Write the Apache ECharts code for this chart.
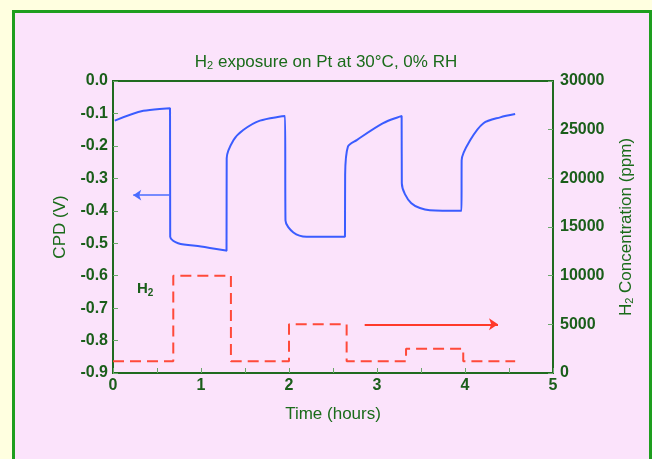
<!DOCTYPE html>
<html>
<head>
<meta charset="utf-8">
<script src="https://cdn.jsdelivr.net/npm/echarts@6/dist/echarts.min.js"></script>
<style>
html,body{margin:0;padding:0;background:#FFFFE0;}
#c{width:652px;height:459px;}
</style>
</head>
<body>
<div id="c"></div>
<script>
// CPD (V) vs time (hours)
const cpdTime = [0.02,0.345,0.648,0.65,0.74,1.0,1.29,1.292,1.37,1.48,1.67,1.955,1.96,2.05,2.2,2.636,2.638,2.67,2.77,3.07,3.28,3.282,3.39,3.6,3.96,3.962,4.06,4.21,4.40,4.57];
const cpdValues = [-0.122,-0.092,-0.084,-0.48,-0.50,-0.51,-0.523,-0.238,-0.182,-0.151,-0.122,-0.108,-0.43,-0.467,-0.48,-0.48,-0.29,-0.202,-0.182,-0.13,-0.108,-0.315,-0.377,-0.398,-0.40,-0.244,-0.182,-0.13,-0.112,-0.102];
// H2 concentration (ppm) vs time (hours)
const h2Time = [0,0.685,0.685,1.34,1.34,2.0,2.0,2.655,2.655,3.33,3.33,3.98,3.98,4.57];
const h2Values = [1200,1200,10000,10000,1200,1200,5000,5000,1200,1200,2500,2500,1200,1200];
// axis ticks
const cpdTicks = {min:-0.9,max:0,interval:0.1};
const h2Ticks = {min:0,max:30000,interval:5000};
const timeTicks = {min:0,max:5,interval:0.5};
// arrows (data coords)
const cpdArrow = [[0.65,-0.352],[0.23,-0.352]];
const h2Arrow = [[2.86,5000],[4.375,5000]];

const green = '#1f6b1f';
const tickGreen = '#6aa86a';
const FF = 'Liberation Sans, Arial, sans-serif';
const labelStyle = {color:'#1a5e1a',fontFamily:FF,fontSize:16,fontWeight:'bold'};
const nameStyle = {color:'#1a6b1a',fontSize:17,fontFamily:FF};
const chart = echarts.init(document.getElementById('c'));
chart.setOption({
  animation:false,
  graphic:[
    {type:'rect',z:-10,silent:true,shape:{x:13.5,y:11.5,width:637,height:460},style:{fill:'#FBE3FB',stroke:'#1E9E1E',lineWidth:3}},
    {type:'text',left:137,top:281,style:{text:'H{s|2}',rich:{s:{fontSize:10,fontWeight:'bold',fill:'#1a5e1a',padding:[9,0,0,0]}},fontSize:15,fontWeight:'bold',fill:'#1a5e1a',fontFamily:FF}}
  ],
  title:{
    text:'H{s|2} exposure on Pt at 30°C, 0% RH',
    left:'center',top:48,
    textStyle:{color:'#1a6b1a',fontSize:17,fontWeight:'normal',fontFamily:FF,
      rich:{s:{fontSize:11,color:'#1a6b1a',padding:[7,0,0,0]}}}
  },
  grid:{left:113,right:99,top:81,bottom:86,show:true,borderColor:green,borderWidth:2,backgroundColor:'transparent'},
  xAxis:{
    type:'value',min:timeTicks.min,max:timeTicks.max,interval:timeTicks.interval,
    name:'Time (hours)',nameLocation:'middle',nameGap:33,
    nameTextStyle:nameStyle,
    axisLine:{onZero:false,lineStyle:{color:green,width:2}},
    axisTick:{inside:true,length:5,lineStyle:{color:tickGreen}},
    axisLabel:Object.assign({margin:5,formatter:v=>(Math.abs(v-Math.round(v))<1e-9?String(Math.round(v)):'')},labelStyle),
    splitLine:{show:false}
  },
  yAxis:[
    {type:'value',min:cpdTicks.min,max:cpdTicks.max,interval:cpdTicks.interval,
     name:'CPD (V)',nameLocation:'middle',nameGap:44,
     nameTextStyle:nameStyle,
     axisLine:{show:true,onZero:false,lineStyle:{color:green,width:2}},
     axisTick:{show:true,inside:true,length:5,lineStyle:{color:tickGreen}},
     axisLabel:Object.assign({margin:5,formatter:v=>v.toFixed(1)},labelStyle),
     splitLine:{show:false}},
    {type:'value',min:h2Ticks.min,max:h2Ticks.max,interval:h2Ticks.interval,
     name:'H{s|2} Concentration (ppm)',nameLocation:'middle',nameGap:64,
     nameTextStyle:Object.assign({rich:{s:{fontSize:11,color:'#1a6b1a',padding:[7,0,0,0]}}},nameStyle),
     axisLine:{show:true,onZero:false,lineStyle:{color:green,width:2}},
     axisTick:{show:true,inside:true,length:5,lineStyle:{color:tickGreen}},
     axisLabel:Object.assign({margin:7,formatter:v=>String(v)},labelStyle),
     splitLine:{show:false}}
  ],
  series:[
    {type:'line',yAxisIndex:0,data:cpdTime.map((t,i)=>[t,cpdValues[i]]),symbol:'none',smooth:0.3,
     lineStyle:{color:'#3a5cff',width:2},
     markLine:{silent:true,symbol:['none','arrow'],symbolSize:[8,8],label:{show:false},
       lineStyle:{color:'#4a6cff',width:1.5,type:'solid'},
       data:[[{coord:cpdArrow[0]},{coord:cpdArrow[1]}]]}},
    {type:'line',yAxisIndex:1,data:h2Time.map((t,i)=>[t,h2Values[i]]),symbol:'none',
     lineStyle:{color:'#ff4a3a',width:2,type:[11,6]},
     markLine:{silent:true,symbol:['none','arrow'],symbolSize:[9,9],label:{show:false},
       lineStyle:{color:'#ff3a2a',width:2,type:'solid'},
       data:[[{coord:h2Arrow[0]},{coord:h2Arrow[1]}]]}}
  ]
});
</script>
</body>
</html>
